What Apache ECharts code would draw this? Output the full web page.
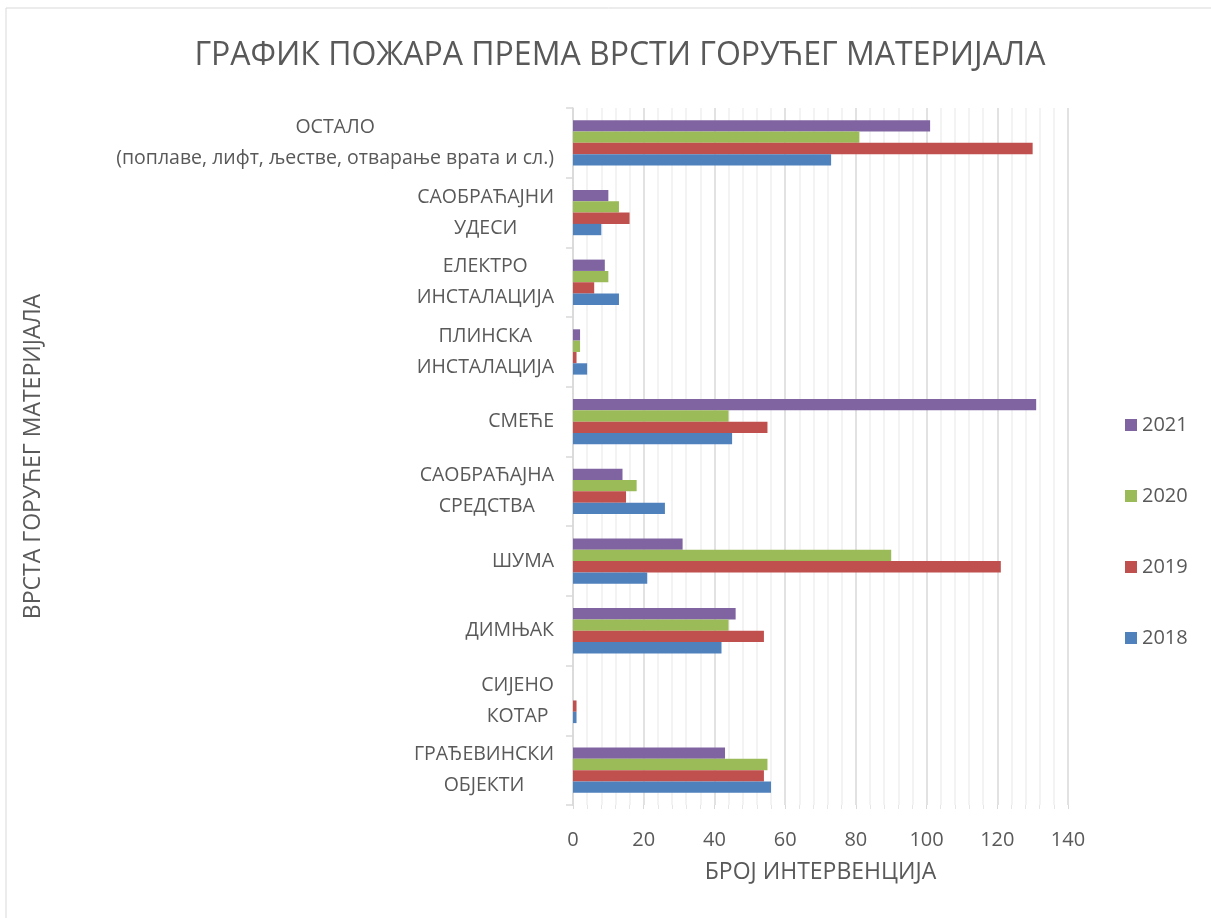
<!DOCTYPE html>
<html>
<head>
<meta charset="utf-8">
<script src="https://cdn.jsdelivr.net/npm/echarts@6/dist/echarts.min.js"></script>
<style>
  html, body { margin: 0; padding: 0; background: #fff; }
  #chart { width: 1211px; height: 918px; }
</style>
</head>
<body>
<div id="chart"></div>
<script>
// категорије, одоздо према горе
const categories = [
  'ГРАЂЕВИНСКИ\nОБЈЕКТИ',
  'СИЈЕНО\nКОТАР',
  'ДИМЊАК',
  'ШУМА',
  'САОБРАЋАЈНА\nСРЕДСТВА',
  'СМЕЋЕ',
  'ПЛИНСКА\nИНСТАЛАЦИЈА',
  'ЕЛЕКТРО\nИНСТАЛАЦИЈА',
  'САОБРАЋАЈНИ\nУДЕСИ',
  'ОСТАЛО\n(поплаве, лифт, љестве, отварање врата и сл.)'
]
const years = ['2021', '2020', '2019', '2018']
const data2018 = [56, 1, 42, 21, 26, 45, 4, 13, 8, 73]
const data2019 = [54, 1, 54, 121, 15, 55, 1, 6, 16, 130]
const data2020 = [55, 0, 44, 90, 18, 44, 2, 10, 13, 81]
const data2021 = [43, 0, 46, 31, 14, 131, 2, 9, 10, 101]
const xTicks = [0, 20, 40, 60, 80, 100, 120, 140]

const colors = { '2018': '#4F81BD', '2019': '#C0504D', '2020': '#9BBB59', '2021': '#8064A2' }
const seriesData = { '2018': data2018, '2019': data2019, '2020': data2020, '2021': data2021 }

const font = '"Open Sans", "Noto Sans", sans-serif'
const textColor = '#595959'

const myChart = echarts.init(document.getElementById('chart'))

myChart.setOption({
  animation: false,
  textStyle: { fontFamily: font },
  title: {
    text: 'ГРАФИК ПОЖАРА ПРЕМА ВРСТИ ГОРУЋЕГ МАТЕРИЈАЛА',
    left: 615,
    textAlign: 'center',
    top: 35,
    textStyle: { fontSize: 32, fontWeight: 'normal', color: textColor, fontFamily: font }
  },
  legend: {
    orient: 'vertical',
    left: 1120,
    top: 410,
    itemGap: 51,
    itemWidth: 12,
    itemHeight: 12,
    icon: 'rect',
    data: years,
    textStyle: { fontSize: 20, color: textColor, fontFamily: font }
  },
  graphic: [
    { type: 'line', shape: { x1: 6, y1: 8, x2: 1211, y2: 8 }, style: { stroke: '#D9D9D9', lineWidth: 1 } },
    { type: 'line', shape: { x1: 6, y1: 8, x2: 6, y2: 918 }, style: { stroke: '#D9D9D9', lineWidth: 1 } }
  ],
  grid: { left: 573, right: 143, top: 108, bottom: 113, containLabel: false },
  xAxis: {
    type: 'value',
    min: 0,
    max: 140,
    interval: 20,
    name: 'БРОЈ ИНТЕРВЕНЦИЈА',
    nameLocation: 'middle',
    nameGap: 56,
    nameTextStyle: { fontSize: 23, color: textColor, fontFamily: font, verticalAlign: 'top' },
    axisLine: { show: false },
    axisTick: { show: true, length: 4, lineStyle: { color: '#D9D9D9' } },
    minorTick: { show: true, splitNumber: 5, length: 4, lineStyle: { color: '#E6E6E6' } },
    axisLabel: {
      fontSize: 20,
      color: textColor,
      margin: 25,
      formatter: v => (xTicks.includes(v) ? String(v) : '')
    },
    splitLine: { show: true, lineStyle: { color: '#D9D9D9', width: 1.5 } },
    minorSplitLine: { show: true, lineStyle: { color: '#EFEFEF', width: 1.5 } }
  },
  yAxis: {
    type: 'category',
    data: categories,
    name: 'ВРСТА ГОРУЋЕГ МАТЕРИЈАЛА',
    nameLocation: 'middle',
    nameRotate: 90,
    nameGap: 528,
    nameTextStyle: { fontSize: 23, color: textColor, fontFamily: font },
    axisLine: { show: true, lineStyle: { color: '#D9D9D9', width: 1.5 } },
    axisTick: { show: true, length: 7, lineStyle: { color: '#D9D9D9', width: 1.5 } },
    axisLabel: {
      margin: 19,
      align: 'right',
      formatter: v => v.split('\n').map(l => '{c|' + l + '}').join('\n'),
      rich: {
        c: { align: 'center', fontSize: 19.5, lineHeight: 31, color: textColor, fontFamily: font }
      }
    },
    splitLine: { show: false }
  },
  series: years.map(y => ({
    name: y,
    type: 'bar',
    data: seriesData[y],
    barGap: '0%',
    barCategoryGap: '35%',
    itemStyle: { color: colors[y] }
  }))
})
</script>
</body>
</html>
